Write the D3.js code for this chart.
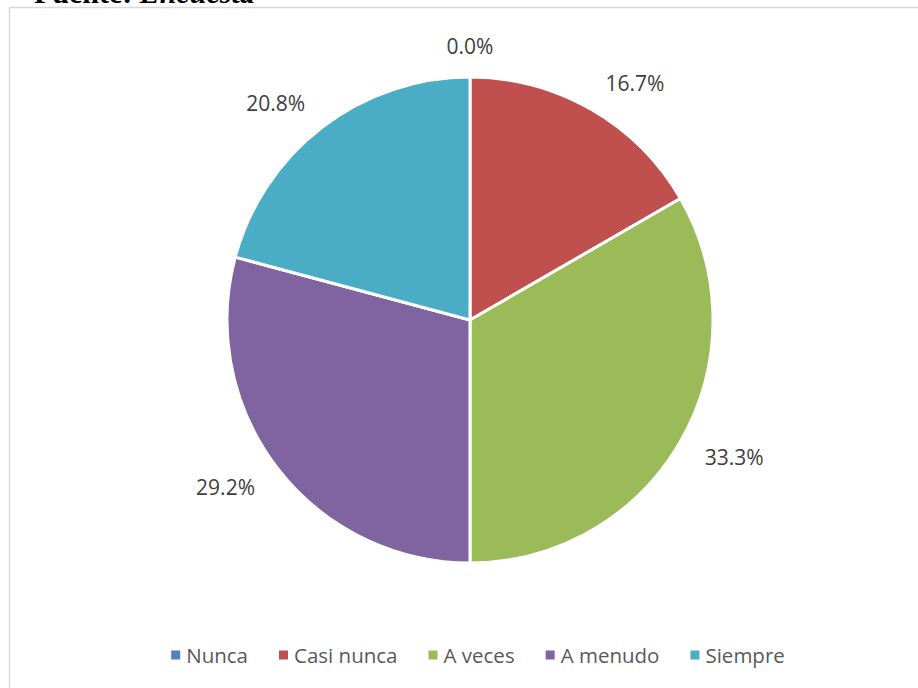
<!DOCTYPE html>
<html>
<head>
<meta charset="utf-8">
<script src="https://cdn.jsdelivr.net/npm/d3@7"></script>
<style>
  body { margin: 0; background: #fff; }
</style>
</head>
<body>
<script>
// datos de la encuesta
var categorias = ["Nunca", "Casi nunca", "A veces", "A menudo", "Siempre"];
var frecuencias = [0, 4, 8, 7, 5];
var colores = ["#4F81BD", "#C0504D", "#9BBB59", "#8064A2", "#4BACC6"];

var width = 918, height = 688;
var cx = 470, cy = 320, radius = 243;
var fontFam = "'Open Sans', sans-serif";

var svg = d3.select("body").append("svg")
    .attr("width", width)
    .attr("height", height);

// texto de la fuente, cortado arriba
var fuente = svg.append("text")
    .attr("x", 34)
    .attr("y", 3)
    .attr("font-family", "'Liberation Serif', serif")
    .attr("font-size", 30)
    .attr("font-weight", "bold")
    .attr("fill", "#000");
fuente.append("tspan").text("Fuente: ");
fuente.append("tspan").attr("font-style", "italic").text("Encuesta");

// borde del area del grafico
svg.append("rect")
    .attr("x", 9.5)
    .attr("y", 7.5)
    .attr("width", 1000)
    .attr("height", 1000)
    .attr("fill", "#fff")
    .attr("stroke", "#d9d9d9")
    .attr("stroke-width", 1.5);

var total = d3.sum(frecuencias);
var datos = categorias.map(function (c, i) {
    return { cat: c, valor: frecuencias[i], color: colores[i] };
});

var pie = d3.pie().sort(null).value(function (d) { return d.valor; });
var arc = d3.arc().innerRadius(0).outerRadius(radius);
var arcs = pie(datos);

var g = svg.append("g").attr("transform", "translate(" + cx + "," + cy + ")");

g.selectAll("path")
    .data(arcs)
    .enter()
    .append("path")
    .attr("d", arc)
    .attr("fill", function (d) { return d.data.color; })
    .attr("stroke", "#fff")
    .attr("stroke-width", 3)
    .attr("stroke-linejoin", "round");

// etiquetas de porcentaje fuera del pastel
var labelR = radius + 28;
var etiquetas = g.selectAll("text.pct")
    .data(arcs)
    .enter()
    .append("text")
    .attr("class", "pct")
    .attr("font-family", fontFam)
    .attr("font-size", 21)
    .attr("fill", "#404040")
    .attr("text-anchor", "middle")
    .attr("dominant-baseline", "central")
    .text(function (d) { return (d.data.valor / total * 100).toFixed(1) + "%"; });

etiquetas.each(function (d) {
    var a = (d.startAngle + d.endAngle) / 2;
    var w = this.getComputedTextLength();
    var s = Math.sin(a), c = Math.cos(a);
    var x = labelR * s, y = -labelR * c;
    if (Math.abs(s) > 0.1) x += (s > 0 ? 1 : -1) * w / 2;
    y += -c * 3;
    d3.select(this).attr("x", x).attr("y", y);
});

// leyenda
var legY = 655, sq = 9, gapTxt = 6, gapItem = 31;
var leg = svg.append("g");
var items = leg.selectAll("g")
    .data(datos)
    .enter()
    .append("g");

items.append("rect")
    .attr("width", sq)
    .attr("height", sq)
    .attr("y", legY - sq / 2)
    .attr("fill", function (d) { return d.color; });

items.append("text")
    .attr("y", legY)
    .attr("dominant-baseline", "central")
    .attr("font-family", fontFam)
    .attr("font-size", 20.5)
    .attr("fill", "#595959")
    .text(function (d) { return d.cat; });

var xpos = 0;
items.each(function () {
    var t = d3.select(this).select("text");
    var w = t.node().getComputedTextLength();
    d3.select(this).select("rect").attr("x", xpos);
    t.attr("x", xpos + sq + gapTxt);
    xpos += sq + gapTxt + w + gapItem;
});
var legW = xpos - gapItem;
leg.attr("transform", "translate(" + (478 - legW / 2) + ",0)");
</script>
</body>
</html>
